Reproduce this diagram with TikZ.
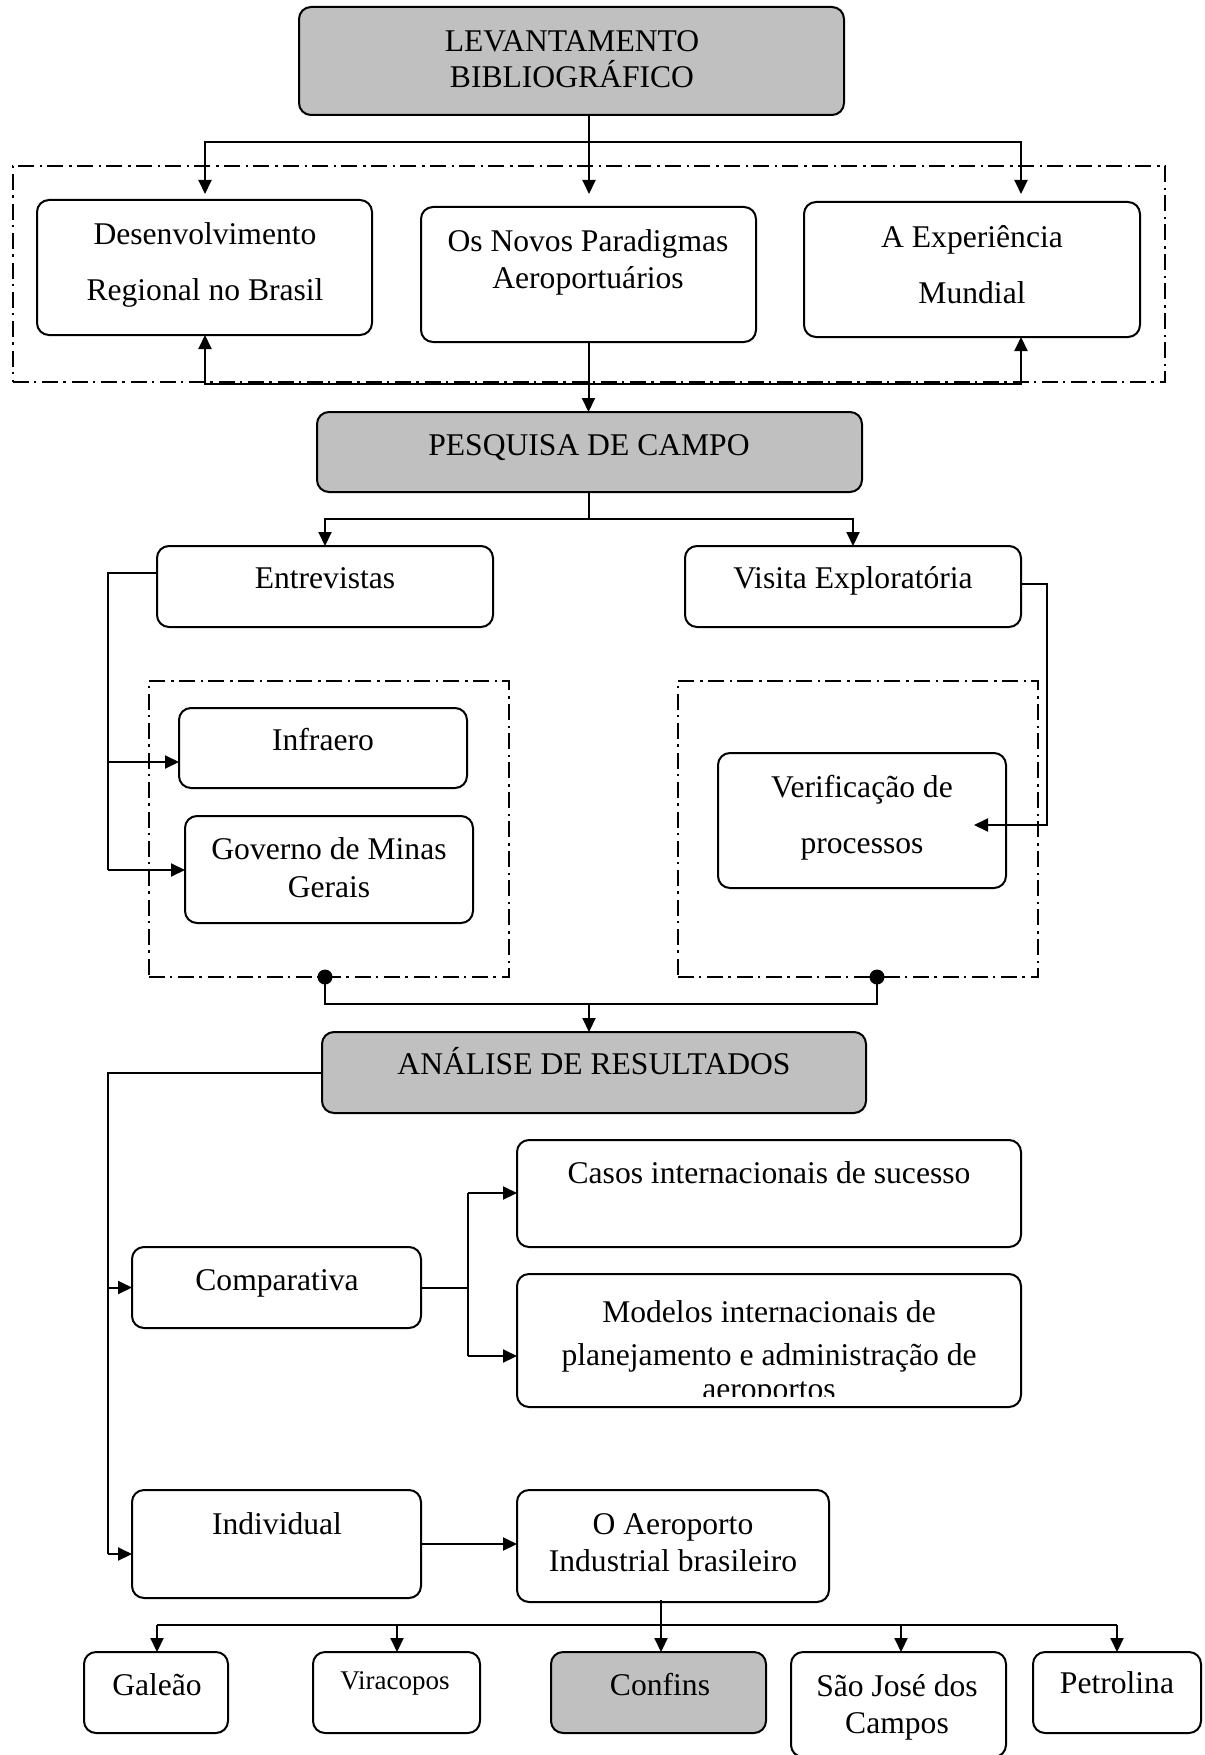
\documentclass[tikz,border=0pt]{standalone}
\usepackage{fontspec}
\setmainfont{Liberation Serif}
\usetikzlibrary{arrows.meta}
\definecolor{boxgray}{RGB}{192,192,192}
\newcommand\mybox[6][]{\node[rectangle,inner sep=0pt,outer sep=0pt,#1,minimum width={(#5-#3)*0.5pt},minimum height={(#6-#4)*0.5pt}] (#2) at ({(#3+#5)/2},{(#4+#6)/2}) {};}
\begin{document}
\begin{tikzpicture}[x=0.5pt,y=-0.5pt,
  rbox/.style={draw,line width=1pt,rounded corners=6pt},
  gbox/.style={rbox,fill=boxgray},
  ddbox/.style={draw,line width=0.8pt,dash pattern=on 8pt off 2.5pt on 1.2pt off 3pt},
  ln/.style={line width=1pt},
  arr/.style={ln,-{Triangle[length=7pt,width=6.5pt]}},
  txt/.style={inner sep=0pt,anchor=base,font=\fontsize{15.8}{18}\selectfont},
  stxt/.style={txt,font=\fontsize{13.5}{16}\selectfont}]
\useasboundingbox (0,0) rectangle (1204,1755);

% ---------- dash-dot frames
\mybox[ddbox]{frameTop}{13}{166}{1165}{382}
\mybox[ddbox]{frameL}{149}{681}{509}{977}
\mybox[ddbox]{frameR}{678}{681}{1038}{977}

% ---------- boxes
\mybox[gbox]{LEV}{299}{7}{844}{115}
\mybox[rbox]{DES}{37}{200}{372}{335}
\mybox[rbox]{NOV}{421}{207}{756}{342}
\mybox[rbox]{EXP}{804}{202}{1140}{337}
\mybox[gbox]{PES}{317}{412}{862}{492}
\mybox[rbox]{ENT}{157}{546}{493}{627}
\mybox[rbox]{VIS}{685}{546}{1021}{627}
\mybox[rbox]{INF}{179}{708}{467}{788}
\mybox[rbox]{GOV}{185}{816}{473}{923}
\mybox[rbox]{VER}{718}{753}{1006}{888}
\mybox[gbox]{ANA}{322}{1032}{866}{1113}
\mybox[rbox]{COM}{132}{1247}{421}{1328}
\mybox[rbox]{CAS}{517}{1140}{1021}{1247}
\mybox[rbox]{MOD}{517}{1274}{1021}{1407}
\mybox[rbox]{IND}{132}{1490}{421}{1598}
\mybox[rbox]{AER}{517}{1490}{829}{1602}
\mybox[rbox]{GAL}{84}{1652}{228}{1733}
\mybox[rbox]{VIR}{313}{1652}{480}{1733}
\mybox[gbox]{CON}{551}{1652}{766}{1733}
\mybox[rbox]{SJC}{791}{1652}{1006}{1757}
\mybox[rbox]{PET}{1033}{1652}{1201}{1733}

% ---------- texts
\node[txt] (levA) at (572,52) {LEVANTAMENTO};
\node[txt] (levB) at (572,88) {BIBLIOGRÁFICO};
\node[txt] (desA) at (205,245) {Desenvolvimento};
\node[txt] (desB) at (205,300) {Regional no Brasil};
\node[txt] (novA) at (588,252) {Os Novos Paradigmas};
\node[txt] (novB) at (588,288) {Aeroportuários};
\node[txt] (expA) at (972,248) {A Experiência};
\node[txt] (expB) at (972,303) {Mundial};
\node[txt] (pesT) at (589,455) {PESQUISA DE CAMPO};
\node[txt] (entT) at (325,588) {Entrevistas};
\node[txt] (visT) at (853,588) {Visita Exploratória};
\node[txt] (infT) at (323,750) {Infraero};
\node[txt] (govA) at (329,859) {Governo de Minas};
\node[txt] (govB) at (329,897) {Gerais};
\node[txt] (verA) at (862,797) {Verificação de};
\node[txt] (verB) at (862,853) {processos};
\node[txt] (anaT) at (594,1074) {ANÁLISE DE RESULTADOS};
\node[txt] (comT) at (277,1290) {Comparativa};
\node[txt] (casT) at (769,1183) {Casos internacionais de sucesso};
\node[txt] (modA) at (769,1322) {Modelos internacionais de};
\node[txt] (modB) at (769,1365) {planejamento e administração de};
\begin{scope}
  \clip (517,1300) rectangle (1021,1396);
  \node[txt] (modC) at (769,1399) {aeroportos};
\end{scope}
\node[txt] (indT) at (277,1534) {Individual};
\node[txt] (aerA) at (673,1534) {O Aeroporto};
\node[txt] (aerB) at (673,1571) {Industrial brasileiro};
\node[txt] (galT) at (157,1695) {Galeão};
\node[stxt] (virT) at (395,1689) {Viracopos};
\node[txt] (conT) at (660,1695) {Confins};
\node[txt] (sjcA) at (897,1696) {São José dos};
\node[txt] (sjcB) at (897,1733) {Campos};
\node[txt] (petT) at (1117,1693) {Petrolina};

% ---------- connectors: top section
\coordinate (t1) at (589,142);
\coordinate (t1L) at (205,194);
\coordinate (t1C) at (589,194);
\coordinate (t1R) at (1021,194);
\draw[ln] (LEV.south -| t1) -- (t1);
\draw[arr] (t1) -| (t1L);
\draw[arr] (t1) -- (t1C);
\draw[arr] (t1) -| (t1R);
\coordinate (b1) at (589,384);
\coordinate (b1L) at (205,335);
\coordinate (b1R) at (1021,337);
\draw[arr] (b1) -| (b1L);
\draw[arr] (b1) -| (b1R);
\draw[arr] (NOV.south) -- (NOV.south |- PES.north);

% ---------- connectors: field research
\coordinate (p1) at (589,519);
\draw[ln] (PES.south -| p1) -- (p1);
\draw[arr] (p1) -| (ENT.north);
\draw[arr] (p1) -| (VIS.north);
\coordinate (e0) at (157,573);
\coordinate (e1) at (108,762);
\coordinate (e2) at (108,870);
\draw[ln] (e0) -| (e2);
\draw[arr] (e1) -- (e1 -| INF.west);
\draw[arr] (e2) -- (e2 -| GOV.west);
\coordinate (v0) at (1021,584);
\coordinate (v1) at (1047,825);
\coordinate (v2) at (974,825);
\draw[arr] (v0) -| (v1) -- (v2);
\coordinate (dL) at (325,977);
\coordinate (dR) at (877,977);
\fill (dL) circle[radius=3.75pt];
\fill (dR) circle[radius=3.75pt];
\coordinate (m1) at (325,1004);
\coordinate (m2) at (877,1004);
\coordinate (m3) at (589,1004);
\draw[ln] (dL) -- (m1) -- (m2) -- (dR);
\draw[arr] (m3) -- (m3 |- ANA.north);

% ---------- connectors: analysis
\coordinate (aL) at (108,1554);
\draw[ln] (ANA.west) -| (aL);
\draw[arr] (aL |- COM.west) -- (COM.west);
\draw[arr] (aL) -- (aL -| IND.west);
\coordinate (c1) at (468,1193);
\coordinate (c2) at (468,1356);
\draw[ln] (COM.east) -- (COM.east -| c1);
\draw[ln] (c1) -- (c2);
\draw[arr] (c1) -- (c1 -| CAS.west);
\draw[arr] (c2) -- (c2 -| MOD.west);
\coordinate (i0) at (421,1544);
\draw[arr] (i0) -- (i0 -| AER.west);

% ---------- connectors: airports
\coordinate (k0) at (661,1600);
\coordinate (kL) at (157,1625);
\coordinate (kV) at (397,1625);
\coordinate (kS) at (901,1625);
\coordinate (kR) at (1117,1625);
\draw[ln] (kL) -- (kR);
\draw[arr] (k0) -- (k0 |- CON.north);
\draw[arr] (kL) -- (kL |- GAL.north);
\draw[arr] (kV) -- (kV |- VIR.north);
\draw[arr] (kS) -- (kS |- SJC.north);
\draw[arr] (kR) -- (kR |- PET.north);
\end{tikzpicture}
\end{document}
